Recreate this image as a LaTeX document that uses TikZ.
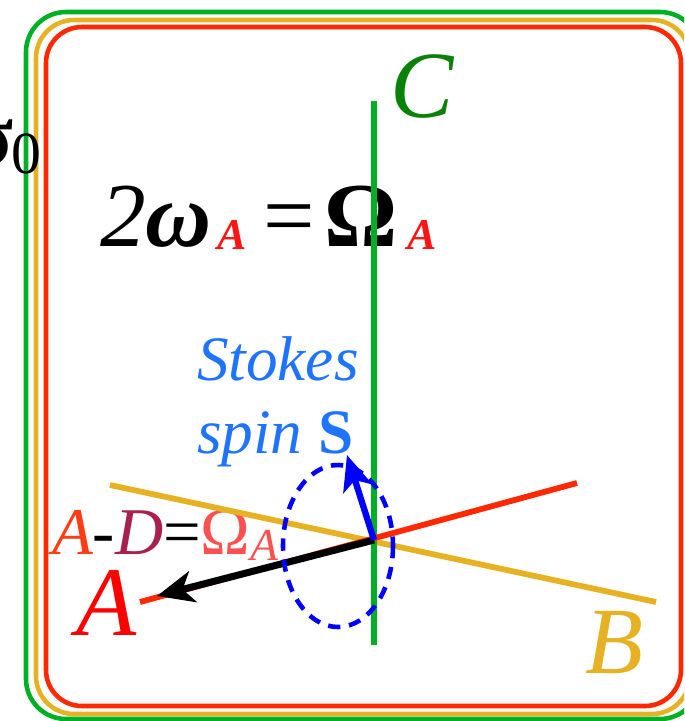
\documentclass[tikz,border=0pt]{standalone}
\usepackage{fontspec}
\setmainfont{Liberation Serif}
\usepackage{xcolor}
\usetikzlibrary{arrows.meta}

\definecolor{frgreen}{RGB}{0,176,36}
\definecolor{frgold}{RGB}{230,178,36}
\definecolor{frred}{RGB}{255,40,0}
\definecolor{cgreen}{RGB}{10,130,10}
\definecolor{stblue}{RGB}{30,115,255}
\definecolor{subred}{RGB}{255,20,20}
\definecolor{aorange}{RGB}{255,60,20}
\definecolor{dmaroon}{RGB}{168,32,78}
\definecolor{omsalmon}{RGB}{255,80,80}

\begin{document}
\begin{tikzpicture}[
    x=0.02cm, y=-0.02cm,
    every node/.style={inner sep=0pt, outer sep=0pt},
    frame/.style={line width=2.6pt},
    axis/.style={line width=3pt},
    arr/.style={line width=4pt, -{Stealth[length=21pt, width=18pt, inset=6pt]}},
    sarr/.style={line width=3.6pt, -{Stealth[length=20pt, width=17pt, inset=5pt]}},
    lbl/.style={anchor=base west, font=\fontsize{54}{54}\selectfont\itshape},
]
\useasboundingbox (0,0) rectangle (684,721);
\clip (0,0) rectangle (684,721);

% nested frames
\draw[frame, frgreen, rounded corners=0.8cm] (26,12) rectangle (700,719);
\draw[frame, frgold, rounded corners=0.76cm] (36,20) rectangle (690,714);
\draw[frame, frred, rounded corners=0.72cm] (46,27) rectangle (681,706);

% texts
\node[anchor=base east, font=\fontsize{50}{50}\selectfont\bfseries] (sig) at (13,165) {σ};
\node[anchor=base west, font=\fontsize{34}{34}\selectfont] (sub0) at (11,173) {0};

\node[anchor=base west, font=\fontsize{52}{52}\selectfont] (eq) at (100,246)
  {\textit{2}\textbf{\textit{ω}}\kern3pt\raisebox{-2pt}{\fontsize{25}{25}\selectfont\color{subred}\textbf{\textit{A}}}\kern10pt=\kern5pt\textbf{Ω}\kern6pt\raisebox{-2pt}{\fontsize{25}{25}\selectfont\color{subred}\textbf{\textit{A}}}};

\node[anchor=base west, font=\fontsize{36}{36}\selectfont\itshape, text=stblue] (stokes) at (197,380) {Stokes};
\node[anchor=base west, font=\fontsize{36}{36}\selectfont\itshape, text=stblue] (spin) at (197,453) {spin \textbf{\upshape S}};

\node[anchor=base west, font=\fontsize{38}{38}\selectfont\itshape] (rel) at (52,554)
  {\color{aorange}A\color{black}-\color{dmaroon}D\color{black}\upshape=\color{omsalmon}Ω\raisebox{-3.5pt}{\fontsize{26}{26}\selectfont\itshape A}};

\node[lbl, text=cgreen] (lblC) at (390,117) {C};
\node[lbl, text=red, font=\fontsize{56}{56}\selectfont\itshape] (lblA) at (76,635) {A};
\node[lbl, text=frgold] (lblB) at (585,673) {B};

% axes
\coordinate (O) at (374,540);
\coordinate (cTop) at (374,101);
\coordinate (cBot) at (374,645);
\coordinate (bL) at (110,485);
\coordinate (bR) at (656,602);
\coordinate (aL) at (140,602);
\coordinate (aR) at (577,483);
\coordinate (aTip) at (157,596);
\coordinate (sTip) at (347,455);

\draw[axis, frgold, line width=3.3pt] (bL) -- (bR);
\draw[axis, frgreen] (cTop) -- (cBot);
\draw[axis, frred, line width=3.3pt] (aL) -- (aR);
\draw[arr, black] (O) -- (aTip);

% Stokes spin loop
\draw[blue, line width=2.6pt, dash pattern=on 7pt off 5pt] (338,546) ellipse [x radius=55, y radius=81];
\draw[sarr, blue] (O) -- (sTip);

\end{tikzpicture}
\end{document}
